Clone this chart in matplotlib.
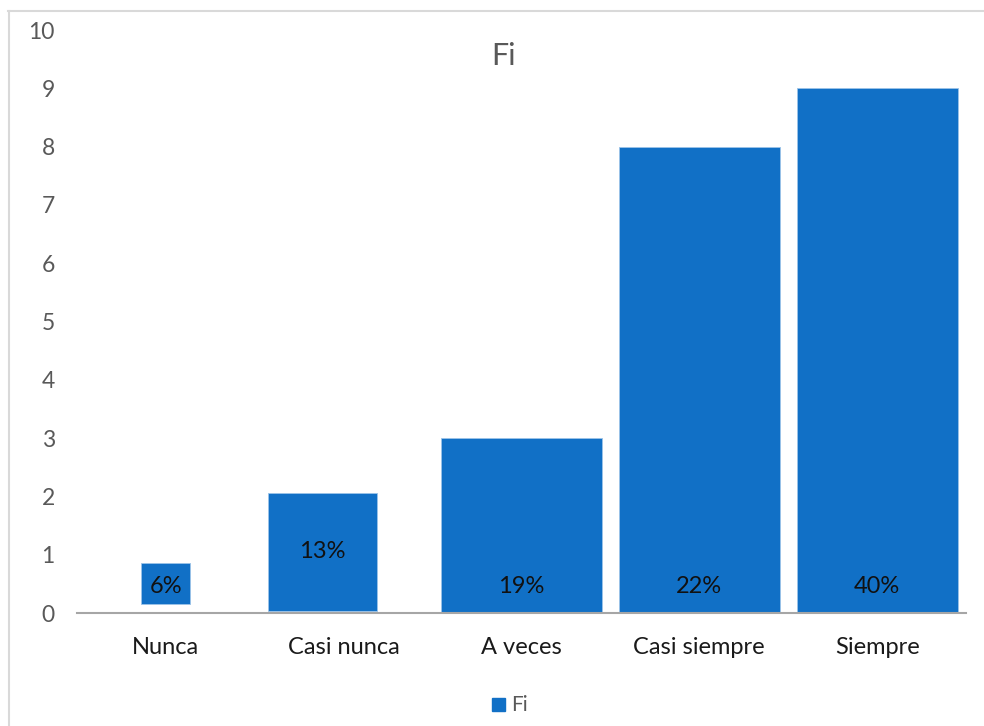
import matplotlib
matplotlib.use("Agg")
import matplotlib.pyplot as plt
from matplotlib.patches import Rectangle
from matplotlib.lines import Line2D

plt.rcParams['font.family'] = ['Lato', 'DejaVu Sans']

categories = ["Nunca", "Casi nunca", "A veces", "Casi siempre", "Siempre"]
bar_tops = [0.85, 2.06, 3.0, 8.0, 9.0]
bar_bottoms = [0.15, 0.03, 0.0, 0.0, 0.0]
pct_labels = ["6%", "13%", "19%", "22%", "40%"]
label_y = [0.45, 1.05, 0.45, 0.45, 0.45]

# per-bar layout (width and horizontal shift in category units)
bar_widths = [0.275, 0.61, 0.905, 0.905, 0.905]
bar_shifts = [0.0, -0.12, 0.0, 0.0, 0.0]

BLUE = "#1170C6"
GREY_TXT = "#595959"

fig = plt.figure(figsize=(9.84, 7.26), dpi=100)
W, H = 984, 726

# chart frame
fig.add_artist(Line2D([9 / W, 9 / W], [0, 1 - 11 / H], color="#d9d9d9", lw=1.5))
fig.add_artist(Line2D([8 / W, 1], [1 - 11 / H, 1 - 11 / H], color="#d9d9d9", lw=1.5))

ax = fig.add_axes([77 / W, (H - 613) / H, (966 - 77) / W, (613 - 30) / H])
x = list(range(len(categories)))
heights = [t - b for t, b in zip(bar_tops, bar_bottoms)]
xpos = [xi + s for xi, s in zip(x, bar_shifts)]
ax.bar(xpos, heights, bottom=bar_bottoms, width=bar_widths, color=BLUE,
       edgecolor="#9cc3e8", linewidth=0.6, zorder=2)

for xi, s, yv, lab in zip(x, bar_shifts, label_y, pct_labels):
    ax.text(xi + s, yv, lab, ha="center", va="center", fontsize=17, color="#111111", zorder=3)

ax.set_xlim(-0.5, len(categories) - 0.5)
ax.set_ylim(0, 10)
ax.set_yticks(range(0, 11))
ax.set_xticks(x)
ax.set_xticklabels(categories, fontsize=17, color="#1a1a1a")
for lbl in ax.get_yticklabels():
    lbl.set_fontsize(16.5)
    lbl.set_color(GREY_TXT)
ax.tick_params(axis="y", length=0, pad=16)
ax.tick_params(axis="x", length=0, pad=17)
for sp in ["top", "right", "left"]:
    ax.spines[sp].set_visible(False)
ax.spines["bottom"].set_color("#a6a6a6")
ax.spines["bottom"].set_linewidth(1.5)

fig.text(503 / W, 1 - 56 / H, "Fi", ha="center", va="center", fontsize=22, color=GREY_TXT)

# legend
fig.add_artist(Rectangle((492 / W, 1 - 711 / H), 13 / W, 13 / H, color=BLUE,
                         transform=fig.transFigure))
fig.text(511 / W, 1 - 705 / H, "Fi", ha="left", va="center", fontsize=15, color=GREY_TXT)

fig.savefig("out.png", dpi=100, facecolor="white")
